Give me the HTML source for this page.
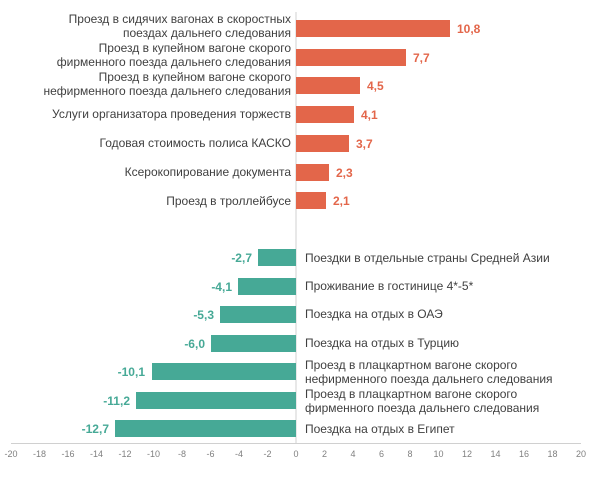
<!DOCTYPE html><html><head><meta charset="utf-8"><style>body{margin:0;background:#fff}</style></head><body>
<svg width="604" height="480" xmlns="http://www.w3.org/2000/svg" font-family="Liberation Sans, sans-serif">
<line x1="296" y1="12" x2="296" y2="443" stroke="#d0d0d0" stroke-width="1"/>
<line x1="11" y1="443.5" x2="581" y2="443.5" stroke="#d0d0d0" stroke-width="1"/>
<g fill="#E3664A">
<rect x="296" y="20" width="154" height="17"/>
<rect x="296" y="49" width="110" height="17"/>
<rect x="296" y="77" width="64" height="17"/>
<rect x="296" y="106" width="58" height="17"/>
<rect x="296" y="135" width="53" height="17"/>
<rect x="296" y="164" width="33" height="17"/>
<rect x="296" y="192" width="30" height="17"/>
</g>
<g fill="#E3664A" font-weight="bold" font-size="12">
<text x="457" y="33">10,8</text><text x="413" y="62">7,7</text><text x="367" y="90">4,5</text><text x="361" y="119">4,1</text><text x="356" y="148">3,7</text><text x="336" y="177">2,3</text><text x="333" y="205">2,1</text>
</g>
<g fill="#46A996">
<rect x="258" y="249" width="38" height="17"/>
<rect x="238" y="278" width="58" height="17"/>
<rect x="220" y="306" width="76" height="17"/>
<rect x="211" y="335" width="85" height="17"/>
<rect x="152" y="363" width="144" height="17"/>
<rect x="136" y="392" width="160" height="17"/>
<rect x="115" y="420" width="181" height="17"/>
</g>
<g fill="#46A996" font-weight="bold" font-size="12" text-anchor="end">
<text x="252" y="262">-2,7</text><text x="232" y="291">-4,1</text><text x="214" y="319">-5,3</text><text x="205" y="348">-6,0</text><text x="145" y="376">-10,1</text><text x="130" y="405">-11,2</text><text x="109" y="433">-12,7</text>
</g>
<g fill="#404040" font-size="12" text-anchor="end">
<text x="291" y="23">Проезд в сидячих вагонах в скоростных</text><text x="291" y="37">поездах дальнего следования</text>
<text x="291" y="52">Проезд в купейном вагоне скорого</text><text x="291" y="66">фирменного поезда дальнего следования</text>
<text x="291" y="81">Проезд в купейном вагоне скорого</text><text x="291" y="95">нефирменного поезда дальнего следования</text>
<text x="291" y="118">Услуги организатора проведения торжеств</text>
<text x="291" y="147">Годовая стоимость полиса КАСКО</text>
<text x="291" y="176">Ксерокопирование документа</text>
<text x="291" y="205">Проезд в троллейбусе</text>
</g>
<g fill="#404040" font-size="12">
<text x="305" y="262">Поездки в отдельные страны Средней Азии</text>
<text x="305" y="290">Проживание в гостинице 4*-5*</text>
<text x="305" y="318">Поездка на отдых в ОАЭ</text>
<text x="305" y="347">Поездка на отдых в Турцию</text>
<text x="305" y="369">Проезд в плацкартном вагоне скорого</text><text x="305" y="383">нефирменного поезда дальнего следования</text>
<text x="305" y="398">Проезд в плацкартном вагоне скорого</text><text x="305" y="412">фирменного поезда дальнего следования</text>
<text x="305" y="433">Поездка на отдых в Египет</text>
</g>
<g fill="#808080" font-size="9" text-anchor="middle">
<text x="11" y="457">-20</text><text x="39.5" y="457">-18</text><text x="68" y="457">-16</text><text x="96.5" y="457">-14</text><text x="125" y="457">-12</text><text x="153.5" y="457">-10</text><text x="182" y="457">-8</text><text x="210.5" y="457">-6</text><text x="239" y="457">-4</text><text x="267.5" y="457">-2</text><text x="296" y="457">0</text><text x="324.5" y="457">2</text><text x="353" y="457">4</text><text x="381.5" y="457">6</text><text x="410" y="457">8</text><text x="438.5" y="457">10</text><text x="467" y="457">12</text><text x="495.5" y="457">14</text><text x="524" y="457">16</text><text x="552.5" y="457">18</text><text x="581" y="457">20</text>
</g>
</svg>
</body></html>
